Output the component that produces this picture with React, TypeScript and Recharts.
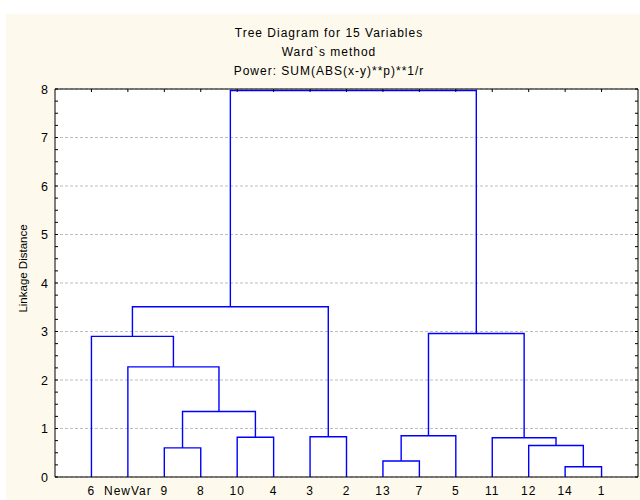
import React from 'react';
import { LineChart, Line, XAxis, YAxis, CartesianGrid } from 'recharts';

// Leaf order along the x axis (left to right)
const leafLabels = ['6', 'NewVar', '9', '8', '10', '4', '3', '2', '13', '7', '5', '11', '12', '14', '1'];
// Node ids 0..14 are leaves; merge k creates node 15 + k
const mergeLeft = [2, 4, 15, 1, 0, 6, 19, 8, 22, 13, 12, 11, 23, 21];
const mergeRight = [3, 5, 16, 17, 18, 7, 20, 9, 10, 14, 24, 25, 26, 27];
const mergeHeight = [0.6, 0.82, 1.35, 2.27, 2.9, 0.83, 3.51, 0.33, 0.85, 0.21, 0.65, 0.81, 2.96, 7.97];

const yTicks = [0, 1, 2, 3, 4, 5, 6, 7, 8];
const yMinorTicks = [
  0, 0.25, 0.5, 0.75, 1, 1.25, 1.5, 1.75, 2, 2.25, 2.5, 2.75, 3, 3.25, 3.5, 3.75, 4,
  4.25, 4.5, 4.75, 5, 5.25, 5.5, 5.75, 6, 6.25, 6.5, 6.75, 7, 7.25, 7.5, 7.75, 8,
];
const titleLines = ['Tree Diagram for 15  Variables', 'Ward`s method', 'Power: SUM(ABS(x-y)**p)**1/r'];
const yAxisTitle = 'Linkage Distance';

const FONT = '"Liberation Sans", Arial, Helvetica, sans-serif';

const leafPositions = leafLabels.map((_, i) => i + 1);

// Build the U-shaped links of the dendrogram from the merge table
const nodeX: number[] = leafLabels.map((_, i) => i + 1);
const nodeY: number[] = leafLabels.map(() => 0);
const links: { x: number; y: number }[][] = [];
mergeLeft.forEach((l, k) => {
  const r = mergeRight[k];
  const h = mergeHeight[k];
  links.push([
    { x: nodeX[l], y: nodeY[l] },
    { x: nodeX[l], y: h },
    { x: nodeX[r], y: h },
    { x: nodeX[r], y: nodeY[r] },
  ]);
  nodeX.push((nodeX[l] + nodeX[r]) / 2);
  nodeY.push(h);
});

const renderXTick = (props: any) => {
  const { x, y, payload } = props;
  const label = leafLabels[Math.round(payload.value) - 1] ?? '';
  return (
    <text
      x={x}
      y={y}
      dy={10}
      textAnchor="middle"
      fontSize={12}
      letterSpacing={1}
      fill="#000"
      stroke="none"
      fontFamily={FONT}
    >
      {label}
    </text>
  );
};

const renderYTick = (props: any) => {
  const { x, y, payload } = props;
  return (
    <text x={x} y={y} dy={4.5} textAnchor="end" fontSize={12.5} fill="#000" stroke="none" fontFamily={FONT}>
      {payload.value}
    </text>
  );
};

const hiddenTick = () => <g />;

const PLOT = { left: 55, top: 89, right: 638, bottom: 477 };

export default function App() {
  return (
    <div style={{ position: 'absolute', left: 0, top: 0, width: 640, height: 500, background: '#ffffff' }}>
      <div style={{ position: 'absolute', left: 6, top: 14, width: 634, height: 486, background: '#FDF9EC' }} />
      <div
        style={{
          position: 'absolute',
          left: PLOT.left,
          top: PLOT.top,
          width: PLOT.right - PLOT.left,
          height: PLOT.bottom - PLOT.top,
          background: '#ffffff',
        }}
      />
      <div style={{ position: 'absolute', left: 0, top: 0 }}>
        <LineChart width={640} height={500} margin={{ top: PLOT.top, right: 640 - PLOT.right, bottom: 0, left: 0 }}>
          <CartesianGrid
            xAxisId="b"
            yAxisId="l"
            vertical={false}
            stroke="#bdbdbd"
            strokeDasharray="3 2"
          />
          <XAxis
            xAxisId="b"
            type="number"
            dataKey="x"
            domain={[0, 16]}
            ticks={leafPositions}
            interval={0}
            allowDataOverflow
            tick={renderXTick}
            tickLine={false}
            stroke="#000"
            axisLine={{ stroke: '#000' }}
            height={500 - PLOT.bottom}
          />
          <XAxis
            xAxisId="t"
            orientation="top"
            mirror
            type="number"
            dataKey="x"
            domain={[0, 16]}
            ticks={leafPositions}
            interval={0}
            allowDataOverflow
            tick={hiddenTick}
            tickSize={3}
            stroke="#000"
            tickLine={{ stroke: '#000' }}
            axisLine={{ stroke: '#000' }}
            height={1}
          />
          <YAxis
            yAxisId="l"
            type="number"
            domain={[0, 8]}
            ticks={yTicks}
            interval={0}
            allowDataOverflow
            tick={renderYTick}
            tickLine={false}
            tickMargin={1}
            stroke="#000"
            axisLine={{ stroke: '#000' }}
            width={PLOT.left}
          />
          <YAxis
            yAxisId="lm"
            mirror
            type="number"
            domain={[0, 8]}
            ticks={yMinorTicks}
            interval={0}
            allowDataOverflow
            tick={hiddenTick}
            tickSize={3}
            stroke="#000"
            tickLine={{ stroke: '#000' }}
            axisLine={false}
            width={1}
          />
          <YAxis
            yAxisId="r"
            orientation="right"
            mirror
            type="number"
            domain={[0, 8]}
            ticks={yMinorTicks}
            interval={0}
            allowDataOverflow
            tick={hiddenTick}
            tickSize={3}
            stroke="#000"
            tickLine={{ stroke: '#000' }}
            axisLine={{ stroke: '#000' }}
            width={1}
          />
          <Line
            xAxisId="t"
            yAxisId="lm"
            data={links[0]}
            dataKey="y"
            stroke="none"
            dot={false}
            activeDot={false}
            isAnimationActive={false}
          />
          <Line
            xAxisId="t"
            yAxisId="r"
            data={links[0]}
            dataKey="y"
            stroke="none"
            dot={false}
            activeDot={false}
            isAnimationActive={false}
          />
          {links.map((pts, k) => (
            <Line
              key={k}
              xAxisId="b"
              yAxisId="l"
              data={pts}
              dataKey="y"
              type="linear"
              stroke="#0000ff"
              strokeWidth={1.4}
              dot={false}
              activeDot={false}
              isAnimationActive={false}
            />
          ))}
        </LineChart>
      </div>
      <svg
        width={640}
        height={500}
        style={{ position: 'absolute', left: 0, top: 0, pointerEvents: 'none' }}
      >
        {titleLines.map((t, i) => (
          <text
            key={i}
            x={329}
            y={36.7 + i * 19.1}
            textAnchor="middle"
            fontSize={12}
            letterSpacing={1}
            fill="#000"
            fontFamily={FONT}
          >
            {t}
          </text>
        ))}
        <text
          transform="translate(27,268.5) rotate(-90)"
          textAnchor="middle"
          fontSize={11.5}
          fill="#000"
          fontFamily={FONT}
        >
          {yAxisTitle}
        </text>
      </svg>
    </div>
  );
}
